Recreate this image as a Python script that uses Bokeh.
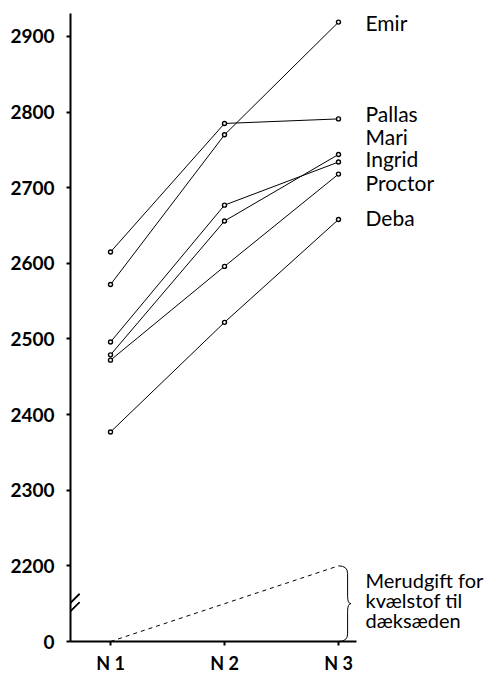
from bokeh.plotting import figure
from bokeh.models import Range1d, FixedTicker, Arrow
from bokeh.core.properties import value
from bokeh.embed import file_html
from bokeh.resources import INLINE

# ---- data ----
levels = [1, 2, 3]
level_labels = ["N 1", "N 2", "N 3"]
varieties = ["Emir", "Pallas", "Mari", "Ingrid", "Proctor", "Deba"]
n1 = [2572, 2615, 2479, 2496, 2472, 2377]
n2 = [2770, 2785, 2656, 2677, 2596, 2522]
n3 = [2919, 2791, 2744, 2734, 2718, 2658]
extra_cost = [0, 50, 100]          # merudgift, plotted from the broken-axis zero
y_ticks = [2100, 2200, 2300, 2400, 2500, 2600, 2700, 2800, 2900]
y_tick_labels = ["0", "2200", "2300", "2400", "2500", "2600", "2700", "2800", "2900"]
cost_text = "Merudgift for\nkvælstof til\ndæksæden"

# ---- styles ----
label_offsets = [0, 7, 24, 5, -11, 2]
FONT = "Lato"
base = y_ticks[0]

p = figure(width=488, height=677, output_backend="svg", toolbar_location=None,
           x_range=Range1d(0.649, 4.316), y_range=Range1d(2100, 2937),
           min_border_left=70, min_border_right=0, min_border_top=8, min_border_bottom=36)
p.outline_line_color = None
p.xgrid.visible = False
p.ygrid.visible = False
p.background_fill_color = "white"

# axes
p.xaxis.ticker = FixedTicker(ticks=levels)
p.xaxis.major_label_overrides = {l: t for l, t in zip(levels, level_labels)}
p.xaxis.bounds = (0.649, 3.16)
p.yaxis.ticker = FixedTicker(ticks=y_ticks)
p.yaxis.major_label_overrides = {t: s for t, s in zip(y_ticks, y_tick_labels)}
p.yaxis.bounds = (2100, 2930)
for ax in (p.xaxis, p.yaxis):
    ax.axis_line_width = 2
    ax.axis_line_color = "black"
    ax.major_tick_line_width = 2
    ax.major_tick_line_color = "black"
    ax.major_tick_out = 4
    ax.major_tick_in = 0
    ax.minor_tick_line_color = None
    ax.major_label_text_font = FONT
    ax.major_label_text_font_size = "19px"
    ax.major_label_text_color = "black"
    ax.major_label_text_font_style = "bold"
p.yaxis.major_label_standoff = 12
p.xaxis.major_label_text_font_size = "18px"
p.xaxis.major_label_standoff = 6

# variety lines
xs = [levels] * len(varieties)
ys = [[a, b, c] for a, b, c in zip(n1, n2, n3)]
p.multi_line(xs=xs, ys=ys, line_color="black", line_width=1)
allx = [l for row in xs for l in row]
ally = [v for row in ys for v in row]
p.scatter(allx, ally, size=4, marker="circle", fill_color="white",
          line_color="black", line_width=1.4)

# variety labels
lab_y = [v + o for v, o in zip(n3, label_offsets)]
p.text(x=[3.237] * len(varieties), y=lab_y, text=varieties,
       text_font=value(FONT), text_font_size="21px", text_baseline="middle",
       text_align="left", text_color="black")

# dashed extra-cost line (from broken-axis zero)
cost_y = [base + c for c in extra_cost]
p.line(levels, cost_y, line_dash="4 4", line_color="black", line_width=1)

# brace
yt, yb = cost_y[-1], cost_y[0]
ym = (yt + yb) / 2
xs_ = 3.08
xt_ = 3.11
x0 = levels[-1]
p.quadratic(x0=[x0, xs_, xt_, xs_], y0=[yt, ym + 10, ym, yb + 10],
            x1=[xs_, xt_, xs_, x0], y1=[yt - 10, ym, ym - 10, yb],
            cx=[xs_, xs_, xs_, xs_], cy=[yt, ym, ym, yb],
            line_color="black", line_width=1)
p.segment(x0=[xs_, xs_], y0=[yt - 10, ym - 10], x1=[xs_, xs_], y1=[ym + 10, yb + 10],
          line_color="black", line_width=1)

p.text(x=[3.237], y=[ym + 5], text=[cost_text], text_font=value(FONT),
       text_font_size="20px", text_baseline="middle", text_align="left",
       text_line_height=0.82, text_color="black")

# axis break marks
breaks = [(2139, 2163), (2128, 2152)]
p.segment(x0=[0.57] * 2, y0=[b[0] for b in breaks], x1=[0.728] * 2, y1=[b[1] for b in breaks],
          line_color="black", line_width=1.5)
for (ys0, ye0) in breaks:
    p.add_layout(Arrow(end=None, x_start=0.57, y_start=ys0, x_end=0.728, y_end=ye0,
                       line_color="black", line_width=1.5))

open("out.html", "w").write(file_html(p, INLINE))
